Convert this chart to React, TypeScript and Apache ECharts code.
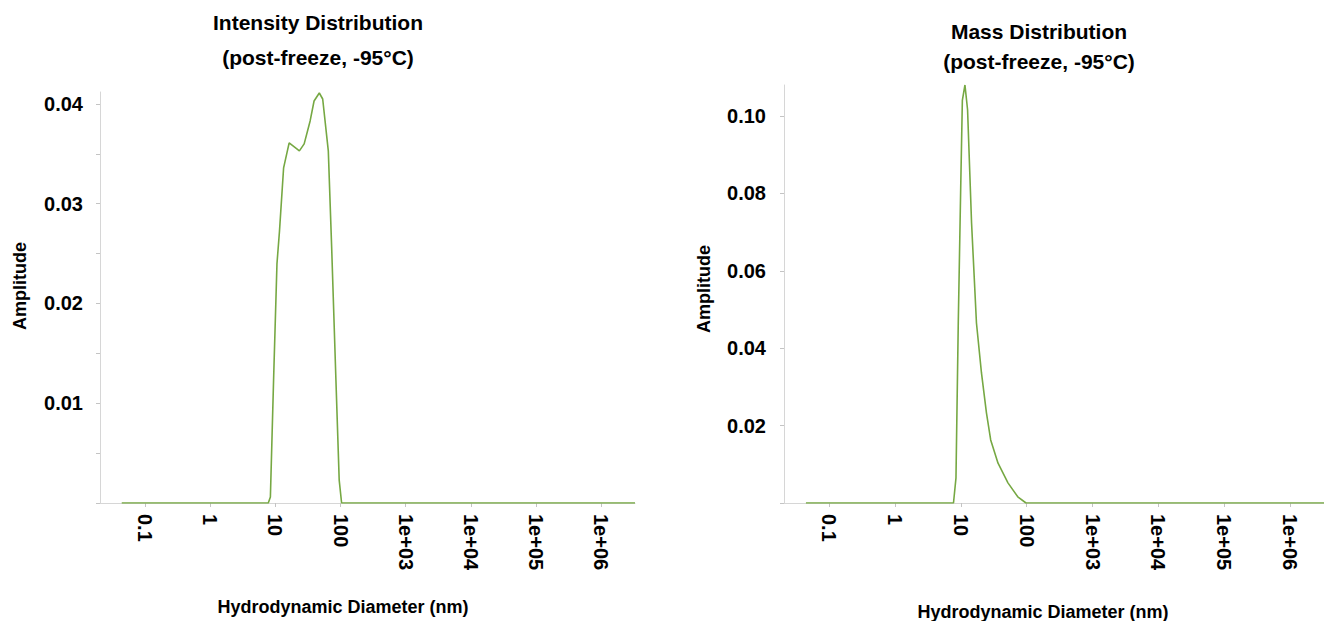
import React, { useEffect, useRef } from "react";
import * as echarts from "echarts";

const xTickValues = [0.1, 1, 10, 100, 1000, 1e4, 1e5, 1e6];
const xTickLabels = ["0.1", "1", "10", "100", "1e+03", "1e+04", "1e+05", "1e+06"];

const intensityDiameters = [0.044, 7.8, 8.4, 9.4, 10.6, 11.6, 13.4, 16.3, 23.4, 27.7, 34.2, 39.3, 47.3, 53.3, 65, 73.2, 85.1, 95.5, 104, 3.3e6];
const intensityValues = [0, 0, 0.0006, 0.0123, 0.024, 0.0273, 0.0336, 0.0361, 0.0353, 0.036, 0.0383, 0.0403, 0.0411, 0.0405, 0.0353, 0.0256, 0.0123, 0.0023, 0, 0];

const massDiameters = [0.044, 7.7, 8.4, 9.1, 9.9, 10.5, 11.5, 12.6, 14.5, 17.2, 20.5, 24.4, 28.3, 36.6, 51.8, 73.1, 97.5, 3.3e6];
const massValues = [0, 0, 0.0065, 0.0465, 0.081, 0.104, 0.108, 0.1016, 0.0723, 0.0465, 0.0336, 0.0233, 0.0163, 0.0103, 0.0052, 0.0016, 0, 0];

const intensityYTicks = [0, 0.005, 0.01, 0.015, 0.02, 0.025, 0.03, 0.035, 0.04];
const intensityYLabels = [0.01, 0.02, 0.03, 0.04];
const massYTicks = [0, 0.02, 0.04, 0.06, 0.08, 0.1];
const massYLabels = [0.02, 0.04, 0.06, 0.08, 0.1];

const titles = ["Intensity Distribution\n(post-freeze, -95°C)", "Mass Distribution\n(post-freeze, -95°C)"];
const xAxisTitle = "Hydrodynamic Diameter (nm)";
const yAxisTitle = "Amplitude";

const FONT = "'Liberation Sans', Arial, Helvetica, sans-serif";
const LINE_COLOR = "#76a843";

function xLabel(v: number): string {
  for (let i = 0; i < xTickValues.length; i++) {
    if (Math.abs(Math.log10(xTickValues[i]) - v) < 1e-6) return xTickLabels[i];
  }
  return "";
}

function makeX(gridIndex: number, min: number, max: number) {
  return {
    type: "value",
    gridIndex,
    min,
    max,
    axisLine: { show: true, onZero: false, lineStyle: { color: "#d6d6d6", width: 1 } },
    axisTick: {
      show: true,
      length: 4,
      lineStyle: { color: "#c4c4c4" },
      customValues: xTickValues.map((v) => Math.log10(v)),
    },
    axisLabel: {
      show: true,
      rotate: -90,
      margin: 11,
      color: "#000",
      fontWeight: "bold",
      fontSize: 20,
      fontFamily: FONT,
      customValues: xTickValues.map((v) => Math.log10(v)),
      formatter: (v: number) => xLabel(v),
    },
    splitLine: { show: false },
  };
}

function makeY(gridIndex: number, max: number, ticks: number[], labels: number[], margin: number) {
  return {
    type: "value",
    gridIndex,
    min: 0,
    max,
    axisLine: { show: true, onZero: false, lineStyle: { color: "#d6d6d6", width: 1 } },
    axisTick: { show: true, length: 4, lineStyle: { color: "#c4c4c4" }, customValues: ticks },
    axisLabel: {
      show: true,
      margin,
      color: "#000",
      fontWeight: "bold",
      fontSize: 20,
      fontFamily: FONT,
      customValues: labels,
      formatter: (v: number) => v.toFixed(2),
    },
    splitLine: { show: false },
  };
}

export default function App() {
  const ref = useRef<HTMLDivElement>(null);
  useEffect(() => {
    if (!ref.current) return;
    const chart = echarts.init(ref.current, undefined, { renderer: "svg" });
    const xmin = -1.69;
    const xmax = Math.log10(3.3e6);
    const textStyle = (text: string, size: number, lh?: number) => ({
      text,
      fontSize: size,
      fontWeight: "bold",
      fontFamily: FONT,
      fill: "#000",
      textAlign: "center",
      textVerticalAlign: "middle",
      lineHeight: lh || size * 1.2,
    });
    chart.setOption({
      animation: false,
      backgroundColor: "#fff",
      grid: [
        { left: 100, top: 92, width: 535, height: 411 },
        { left: 784, top: 85, width: 540, height: 418 },
      ],
      xAxis: [makeX(0, xmin, xmax), makeX(1, xmin, xmax)],
      yAxis: [
        makeY(0, 0.0412, intensityYTicks, intensityYLabels, 17),
        makeY(1, 0.108, massYTicks, massYLabels, 18),
      ],
      series: [
        {
          type: "line",
          xAxisIndex: 0,
          yAxisIndex: 0,
          data: intensityDiameters.map((d, i) => [Math.log10(d), intensityValues[i]]),
          showSymbol: false,
          lineStyle: { color: LINE_COLOR, width: 1.6 },
          itemStyle: { color: LINE_COLOR },
        },
        {
          type: "line",
          xAxisIndex: 1,
          yAxisIndex: 1,
          data: massDiameters.map((d, i) => [Math.log10(d), massValues[i]]),
          showSymbol: false,
          lineStyle: { color: LINE_COLOR, width: 1.6 },
          itemStyle: { color: LINE_COLOR },
        },
      ],
      graphic: [
        { type: "text", x: 318, y: 40, style: textStyle(titles[0], 21, 35) },
        { type: "text", x: 1039, y: 46, style: textStyle(titles[1], 21, 30) },
        { type: "text", x: 343, y: 607, style: textStyle(xAxisTitle, 18) },
        { type: "text", x: 1043, y: 612, style: textStyle(xAxisTitle, 18) },
        { type: "text", x: 20, y: 286, rotation: Math.PI / 2, style: textStyle(yAxisTitle, 18) },
        { type: "text", x: 704, y: 289, rotation: Math.PI / 2, style: textStyle(yAxisTitle, 18) },
      ],
    });
    return () => chart.dispose();
  }, []);
  return (
    <div
      ref={ref}
      style={{ position: "fixed", left: 0, top: 0, width: 1324, height: 621, background: "#fff" }}
    />
  );
}
